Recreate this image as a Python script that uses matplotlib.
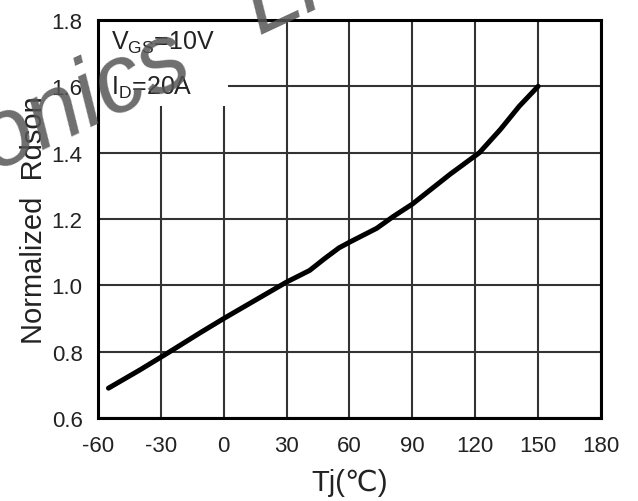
import matplotlib
matplotlib.use('Agg')
import matplotlib.pyplot as plt
from matplotlib.patches import Rectangle

plt.rcParams['font.family'] = ['Liberation Sans', 'DejaVu Sans']

# Donnees
tj = [-55, -40, -27, -11, 0, 15, 30, 41, 48, 55, 60, 73, 81, 90, 108, 122, 132, 141, 150]
rdson = [0.69, 0.745, 0.795, 0.858, 0.90, 0.955, 1.01, 1.045, 1.08, 1.113, 1.13,
         1.172, 1.208, 1.245, 1.335, 1.40, 1.47, 1.54, 1.60]

x_ticks = [-60, -30, 0, 30, 60, 90, 120, 150, 180]
y_ticks = [0.6, 0.8, 1.0, 1.2, 1.4, 1.6, 1.8]
y_labels = ['0.6', '0.8', '1.0', '1.2', '1.4', '1.6', '1.8']

fig = plt.figure(figsize=(6.38, 5.02), dpi=100)
ax = fig.add_axes([0.1536, 0.1653, 0.7884, 0.7929])

ax.set_xlim(-60, 180)
ax.set_ylim(0.6, 1.8)
ax.set_xticks(x_ticks)
ax.set_xticklabels([str(v) for v in x_ticks])
ax.set_yticks(y_ticks)
ax.set_yticklabels(y_labels)
ax.tick_params(length=0, labelsize=16, colors='#222222')
ax.tick_params(axis='x', pad=12)
ax.tick_params(axis='y', pad=11)

ax.grid(True, color='#333333', linewidth=1.5)
ax.set_axisbelow(True)
for s in ax.spines.values():
    s.set_linewidth(2.2)
    s.set_color('black')

# Cadre blanc derriere l'annotation
ax.add_patch(Rectangle((-60, 1.54), 62, 0.26, facecolor='white',
                       edgecolor='none', zorder=1.5))

ax.plot(tj, rdson, color='black', linewidth=3.6, solid_capstyle='round', zorder=3)

ax.text(-54, 1.712, r'V$_\mathregular{GS}$=10V', fontsize=18, color='#222222', zorder=4)
ax.text(-54, 1.577, r'I$_\mathregular{D}$=20A', fontsize=18, color='#222222', zorder=4)

ax.set_ylabel('Normalized  Rdson', fontsize=21, color='#222222', labelpad=3)
ax.set_xlabel('Tj(℃)', fontsize=21, color='#222222', labelpad=9)

# Filigrane (texte incline)
fig.text(-0.01, 0.66, 'onics', fontsize=69, rotation=25, rotation_mode='anchor',
         fontstyle='italic', color='#555555', alpha=0.85, ha='left', va='baseline',
         zorder=10)
fig.text(0.405, 0.93, 'Li', fontsize=69, rotation=25, rotation_mode='anchor',
         fontstyle='italic', color='#555555', alpha=0.85, ha='left', va='baseline',
         zorder=10)

fig.savefig('out.png', dpi=100)
